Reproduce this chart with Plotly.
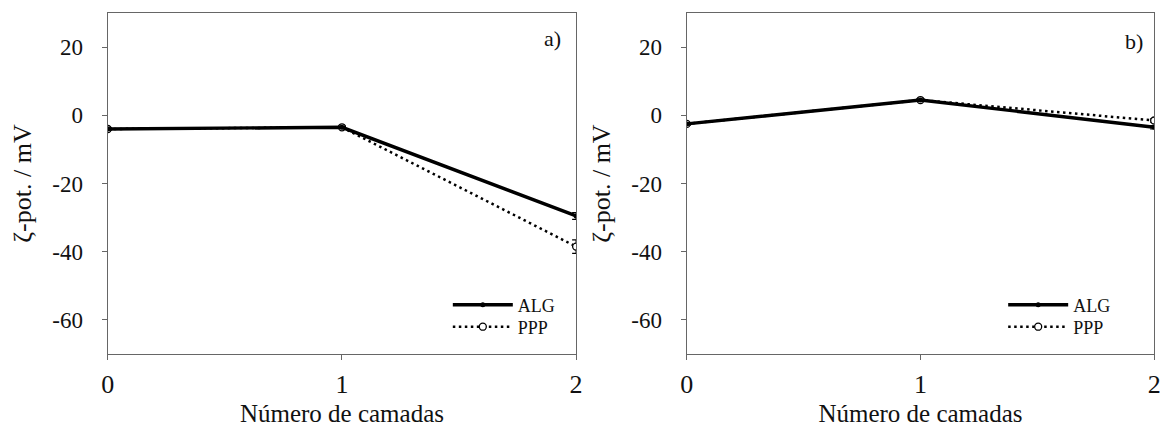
import plotly.graph_objects as go

layers = [0, 1, 2]
alg_a = [-4.0, -3.5, -29.5]
alg_a_err = [0.3, 0.3, 1.0]
ppp_a = [-4.0, -3.5, -38.5]
ppp_a_err = [0.3, 0.3, 2.0]
alg_b = [-2.5, 4.5, -3.5]
alg_b_err = [0.3, 0.3, 0.5]
ppp_b = [-2.5, 4.5, -1.5]
ppp_b_err = [0.3, 0.3, 0.5]
y_ticks = [-60, -40, -20, 0, 20]
y_ticktext = [str(v) for v in y_ticks]
x_ticks = [0, 1, 2]
x_ticktext = [str(v) for v in x_ticks]

FONT = "Liberation Serif, Times New Roman, serif"
TXT = "#111111"

fig = go.Figure()

def add_pair(alg, alg_err, ppp, ppp_err, xa, ya, leg_alg, leg_ppp):
    fig.add_trace(go.Scatter(
        x=layers, y=ppp, name="PPP", mode="lines+markers",
        xaxis=xa, yaxis=ya, legend=leg_ppp,
        line=dict(color="black", width=2.5, dash="2.5px,3.5px"),
        marker=dict(symbol="circle", size=7, color="white", line=dict(color="black", width=1.3)),
        error_y=dict(type="data", array=ppp_err, color="black", thickness=1.2, width=4),
    ))
    fig.add_trace(go.Scatter(
        x=layers, y=alg, name="ALG", mode="lines+markers",
        xaxis=xa, yaxis=ya, legend=leg_alg,
        line=dict(color="black", width=3.4),
        marker=dict(symbol="circle", size=5, color="black"),
        error_y=dict(type="data", array=alg_err, color="black", thickness=1.2, width=4),
    ))

add_pair(alg_a, alg_a_err, ppp_a, ppp_a_err, "x", "y", "legend", "legend2")
add_pair(alg_b, alg_b_err, ppp_b, ppp_b_err, "x2", "y2", "legend3", "legend4")

axis_common = dict(
    showline=True, linecolor="#666666", linewidth=1.3, mirror=True,
    showgrid=False, zeroline=False, ticks="outside", ticklen=5,
    tickcolor="#666666",
)

xcommon = dict(axis_common, range=[0, 2], tickvals=x_ticks, ticktext=x_ticktext,
               tickfont=dict(family=FONT, size=26, color=TXT),
               ticklabelstandoff=2,
               title=dict(text="Número de camadas", font=dict(family=FONT, size=25, color=TXT), standoff=6))
ycommon = dict(axis_common, range=[-70, 30], tickvals=y_ticks, ticktext=y_ticktext,
               tickfont=dict(family=FONT, size=23, color=TXT),
               ticklabelstandoff=14,
               title=dict(text="ζ-pot. / mV", font=dict(family=FONT, size=26, color=TXT), standoff=13))

legend_common = dict(
    bgcolor="rgba(0,0,0,0)", font=dict(family=FONT, size=18, color=TXT),
    itemwidth=60, xanchor="left", yanchor="middle",
)

fig.update_layout(
    width=1171, height=437,
    margin=dict(l=0, r=0, t=0, b=0),
    paper_bgcolor="white", plot_bgcolor="white",
    showlegend=True,
    xaxis=dict(xcommon, domain=[0.0871, 0.4919], anchor="y"),
    yaxis=dict(ycommon, domain=[0.19, 0.97], anchor="x"),
    xaxis2=dict(xcommon, domain=[0.5875, 0.9915], anchor="y2"),
    yaxis2=dict(ycommon, domain=[0.19, 0.97], anchor="x2"),
    legend=dict(legend_common, x=0.381, y=0.302),
    legend2=dict(legend_common, x=0.381, y=0.2517),
    legend3=dict(legend_common, x=0.861, y=0.302),
    legend4=dict(legend_common, x=0.861, y=0.2517),
    annotations=[
        dict(text="a)", x=0.4808, y=0.913, xref="paper", yref="paper", showarrow=False,
             xanchor="right", yanchor="middle", font=dict(family=FONT, size=22, color=TXT)),
        dict(text="b)", x=0.9838, y=0.906, xref="paper", yref="paper", showarrow=False,
             xanchor="right", yanchor="middle", font=dict(family=FONT, size=22, color=TXT)),
    ],
)

fig.write_html("out.html")
